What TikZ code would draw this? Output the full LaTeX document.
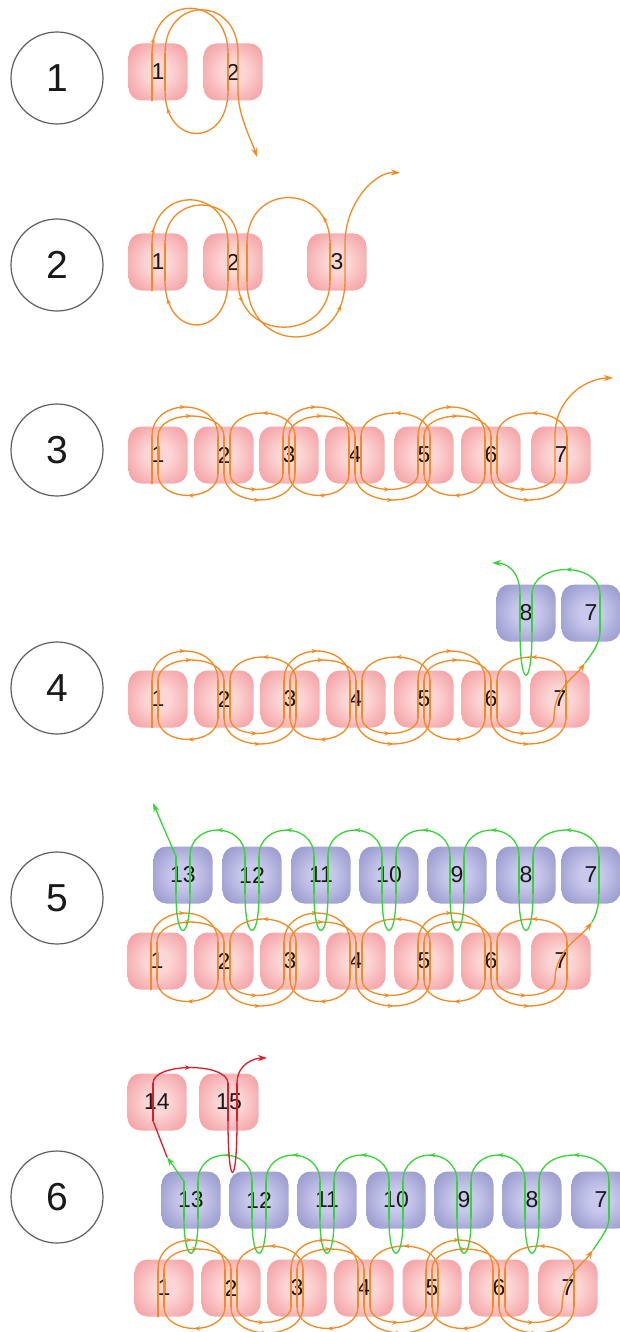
\documentclass[tikz,border=0pt]{standalone}
\usepackage{fontspec}
\setmainfont{Liberation Sans}
\usetikzlibrary{arrows.meta,decorations.markings}
\definecolor{pinkin}{RGB}{252,214,214}
\definecolor{pinkout}{RGB}{242,146,150}
\definecolor{bluein}{RGB}{200,200,236}
\definecolor{blueout}{RGB}{140,140,198}
\definecolor{thorange}{RGB}{243,138,34}
\definecolor{thgreen}{RGB}{55,212,55}
\definecolor{thred}{RGB}{222,28,42}
\definecolor{ringgray}{RGB}{95,95,95}
\pgfdeclareradialshading{pinkshade}{\pgfpoint{0bp}{0bp}}{color(0bp)=(pinkin); color(10bp)=(pinkin); color(38bp)=(pinkout); color(50bp)=(pinkout)}
\pgfdeclareradialshading{blueshade}{\pgfpoint{0bp}{0bp}}{color(0bp)=(bluein); color(10bp)=(bluein); color(38bp)=(blueout); color(50bp)=(blueout)}
\tikzset{
  bead/.style={rectangle, rounded corners=13pt, minimum width=59pt, minimum height=57pt,
    inner sep=0pt, font=\fontsize{23}{23}\selectfont, text=black!90},
  pbead/.style={bead, shade, shading=pinkshade},
  bbead/.style={bead, shade, shading=blueshade},
  stepc/.style={circle, draw=ringgray, line width=1.2pt, fill=white, minimum size=92pt,
    inner sep=0pt, font=\fontsize{39}{39}\selectfont, text=black!90},
  thread/.style={line width=1.3pt, line cap=round, line join=round},
  oth/.style={thread, draw=thorange},
  gth/.style={thread, draw=thgreen},
  rth/.style={thread, draw=thred},
  arr/.style={postaction={decorate}, decoration={markings,
    mark=at position #1 with {\arrow{Stealth[length=5.5pt,width=4.5pt]}}}},
  arr/.default=0.5,
  endarr/.style={-{Stealth[length=9pt,width=6pt]}}
}
% top arc: opt style, thread style, node A, dx A, node B, dx B, control height
\newcommand\tarc[7][arr]{\draw[#2,#1] ([xshift=#4pt,yshift=-10pt]#3.north) .. controls +(0,-#7) and +(0,-#7) .. ([xshift=#6pt,yshift=-10pt]#5.north);}
\newcommand\barc[7][arr]{\draw[#2,#1] ([xshift=#4pt,yshift=10pt]#3.south) .. controls +(0,#7) and +(0,#7) .. ([xshift=#6pt,yshift=10pt]#5.south);}
\newcommand\vpass[4]{\draw[#1] ([xshift=#3pt,yshift=-10pt]#2.north) -- ([xshift=#4pt,yshift=10pt]#2.south);}
\newcommand\hookp[4]{%
  \vpass{#1}{#2}{#3}{#3}
  \draw[#1] ([xshift=#3pt,yshift=10pt]#2.south) .. controls +(0,#4) and +(0,#4) .. ([xshift=-#3pt,yshift=10pt]#2.south);
  \vpass{#1}{#2}{-#3}{-#3}}
\newcommand\oddpair[3]{%
  \vpass{#3}{#1}{-6}{-6}
  \tarc{#3}{#1}{-6}{#2}{-6}{39}
  \vpass{#3}{#2}{-6}{-6}
  \barc{#3}{#2}{-6}{#1}{0}{29}
  \vpass{#3}{#1}{0}{0}
  \tarc{#3}{#1}{0}{#2}{0}{27}
  \vpass{#3}{#2}{0}{0}}
\newcommand\evenpair[3]{%
  \barc{#3}{#1}{0}{#2}{6}{35}
  \vpass{#3}{#2}{6}{6}
  \tarc{#3}{#2}{6}{#1}{6}{31}
  \vpass{#3}{#1}{6}{6}
  \barc{#3}{#1}{6}{#2}{-6}{21}}
\newcommand\ladder[2]{%
  \draw[#2] ([xshift=-6pt]#1-1.south) -- ([xshift=-6pt,yshift=10pt]#1-1.south);
  \oddpair{#1-1}{#1-2}{#2}\evenpair{#1-2}{#1-3}{#2}
  \oddpair{#1-3}{#1-4}{#2}\evenpair{#1-4}{#1-5}{#2}
  \oddpair{#1-5}{#1-6}{#2}\evenpair{#1-6}{#1-7}{#2}}
\newcommand\bchain[3]{%
  \tarc{gth}{#1-b7}{8}{#1-b8}{7}{#2}
  \hookp{gth}{#1-b8}{7}{#3}
  \tarc{gth}{#1-b8}{-7}{#1-b9}{7}{#2}
  \hookp{gth}{#1-b9}{7}{#3}
  \tarc{gth}{#1-b9}{-7}{#1-b10}{7}{#2}
  \hookp{gth}{#1-b10}{7}{#3}
  \tarc{gth}{#1-b10}{-7}{#1-b11}{7}{#2}
  \hookp{gth}{#1-b11}{7}{#3}
  \tarc{gth}{#1-b11}{-7}{#1-b12}{7}{#2}
  \hookp{gth}{#1-b12}{7}{#3}
  \tarc{gth}{#1-b12}{-7}{#1-b13}{7}{#2}
  \hookp{gth}{#1-b13}{7}{#3}}

\begin{document}
\begin{tikzpicture}[x=1pt,y=-1pt]
\useasboundingbox (0,0) rectangle (619,1332);
\fill[white] (0,0) rectangle (619,1332);

% step circles
\node[stepc] (c1) at (57,78) {1};
\node[stepc] (c2) at (57,265) {2};
\node[stepc] (c3) at (57,450) {3};
\node[stepc] (c4) at (57,688) {4};
\node[stepc] (c5) at (57,898) {5};
\node[stepc] (c6) at (57,1197) {6};

% beads
\node[pbead] (s1-1) at (158,72) {1};
\node[pbead] (s1-2) at (233,72) {2};
\node[pbead] (s2-1) at (158,262) {1};
\node[pbead] (s2-2) at (233,262) {2};
\node[pbead] (s2-3) at (337,262) {3};
\foreach \x [count=\i] in {158,224,289,355,424,491,561} \node[pbead] (s3-\i) at (\x,455) {\i};
\foreach \x [count=\i] in {158,224,290,356,424,491,560} \node[pbead] (s4-\i) at (\x,699) {\i};
\node[bbead] (s4-b8) at (526,613) {8};
\node[bbead] (s4-b7) at (591,613) {7};
\foreach \x [count=\i] in {157,224,290,356,424,491,561} \node[pbead] (s5-\i) at (\x,961) {\i};
\foreach \x/\n in {183/13,252/12,321/11,389/10,457/9,526/8,591/7} \node[bbead] (s5-b\n) at (\x,875) {\n};
\node[pbead] (s6-14) at (157,1102) {14};
\node[pbead] (s6-15) at (229,1102) {15};
\foreach \x/\n in {191/13,259/12,327/11,396/10,464/9,532/8,601/7} \node[bbead] (s6-b\n) at (\x,1200) {\n};
\foreach \x [count=\i] in {164,231,297,364,432,499,568} \node[pbead] (s6-\i) at (\x,1288) {\i};

% free thread ends
\coordinate (s1e) at (257,157);
\coordinate (s2e) at (400,173);
\coordinate (s3e) at (613,378);
\coordinate (s4o) at (585,663);
\coordinate (s4g) at (492,563);
\coordinate (s5o) at (592,922);
\coordinate (s5g) at (153,803);
\coordinate (s6o) at (593,1250);
\coordinate (s6g) at (167,1157);
\coordinate (s6r) at (267,1058);

% ---- step 1
\draw[oth] ([xshift=-6pt]s1-1.south) -- ([xshift=-6pt,yshift=10pt]s1-1.south);
\vpass{oth}{s1-1}{-6}{-6}
\tarc[arr=0.12]{oth}{s1-1}{-6}{s1-2}{-5}{60}
\vpass{oth}{s1-2}{-5}{-5}
\barc[arr=0.85]{oth}{s1-2}{-5}{s1-1}{7}{57}
\vpass{oth}{s1-1}{7}{7}
\tarc[]{oth}{s1-1}{7}{s1-2}{5}{58}
\draw[oth,endarr] ([xshift=5pt,yshift=-10pt]s1-2.north) -- ([xshift=5pt,yshift=10pt]s1-2.south) .. controls +(0,25) and +(-6,-18) .. (s1e);

% ---- step 2
\draw[oth] ([xshift=-6pt]s2-1.south) -- ([xshift=-6pt,yshift=10pt]s2-1.south);
\vpass{oth}{s2-1}{-6}{-6}
\tarc[arr=0.12]{oth}{s2-1}{-6}{s2-2}{-5}{58}
\vpass{oth}{s2-2}{-5}{-5}
\barc[arr=0.85]{oth}{s2-2}{-5}{s2-1}{7}{59}
\vpass{oth}{s2-1}{7}{7}
\tarc[]{oth}{s2-1}{7}{s2-2}{5}{51}
\vpass{oth}{s2-2}{5}{5}
\barc[arr=0.15]{oth}{s2-2}{5}{s2-3}{-7}{62}
\vpass{oth}{s2-3}{-7}{-7}
\tarc[arr=0.2]{oth}{s2-3}{-7}{s2-2}{14}{61}
\vpass{oth}{s2-2}{14}{14}
\barc[arr=0.85]{oth}{s2-2}{14}{s2-3}{8}{75}
\draw[oth,endarr] ([xshift=8pt,yshift=10pt]s2-3.south) -- ([xshift=8pt,yshift=-10pt]s2-3.north) .. controls +(0,-40) and +(-25,-2) .. (s2e);

% ---- step 3
\ladder{s3}{oth}
\draw[oth,endarr] ([xshift=-6pt,yshift=10pt]s3-7.south) -- ([xshift=-6pt,yshift=-10pt]s3-7.north) .. controls +(0,-40) and +(-25,0) .. (s3e);

% ---- step 4
\ladder{s4}{oth}
\draw[oth,endarr] ([xshift=-6pt,yshift=10pt]s4-7.south) .. controls +(0,-30) and +(-10,14) .. (s4o);
\draw[gth] (s4o) .. controls +(6,-8) and +(0,12) .. ([xshift=9pt,yshift=10pt]s4-b7.south);
\vpass{gth}{s4-b7}{9}{9}
\tarc{gth}{s4-b7}{9}{s4-b8}{6}{33}
\hookp{gth}{s4-b8}{6}{58}
\draw[gth,endarr] ([xshift=-6pt,yshift=-10pt]s4-b8.north) .. controls +(0,-24) and +(14,0) .. (s4g);

% ---- step 5
\ladder{s5}{oth}
\draw[oth,endarr] ([xshift=-6pt,yshift=10pt]s5-7.south) .. controls +(0,-30) and +(-10,14) .. (s5o);
\draw[gth] (s5o) .. controls +(5,-8) and +(0,10) .. ([xshift=8pt,yshift=10pt]s5-b7.south);
\vpass{gth}{s5-b7}{8}{8}
\bchain{s5}{35}{49}
\draw[gth,endarr] ([xshift=-7pt,yshift=-10pt]s5-b13.north) -- (s5g);

% ---- step 6
\ladder{s6}{oth}
\draw[oth,endarr] ([xshift=-6pt,yshift=10pt]s6-7.south) .. controls +(0,-30) and +(-10,14) .. (s6o);
\draw[gth] (s6o) .. controls +(5,-8) and +(0,10) .. ([xshift=8pt,yshift=10pt]s6-b7.south);
\vpass{gth}{s6-b7}{8}{8}
\bchain{s6}{35}{46}
\draw[gth,endarr] ([xshift=-7pt,yshift=-10pt]s6-b13.north) -- (s6g);
\draw[rth] (s6g) -- ([xshift=-4pt,yshift=10pt]s6-14.south);
\vpass{rth}{s6-14}{-4}{-4}
\tarc{rth}{s6-14}{-4}{s6-15}{-1}{21}
\vpass{rth}{s6-15}{-1}{-1}
\draw[rth] ([xshift=-1pt,yshift=10pt]s6-15.south) .. controls +(0,69) and +(0,69) .. ([xshift=8pt,yshift=10pt]s6-15.south);
\vpass{rth}{s6-15}{8}{8}
\draw[rth,endarr] ([xshift=8pt,yshift=-10pt]s6-15.north) .. controls +(0,-20) and +(-12,0) .. (s6r);
\end{tikzpicture}
\end{document}
